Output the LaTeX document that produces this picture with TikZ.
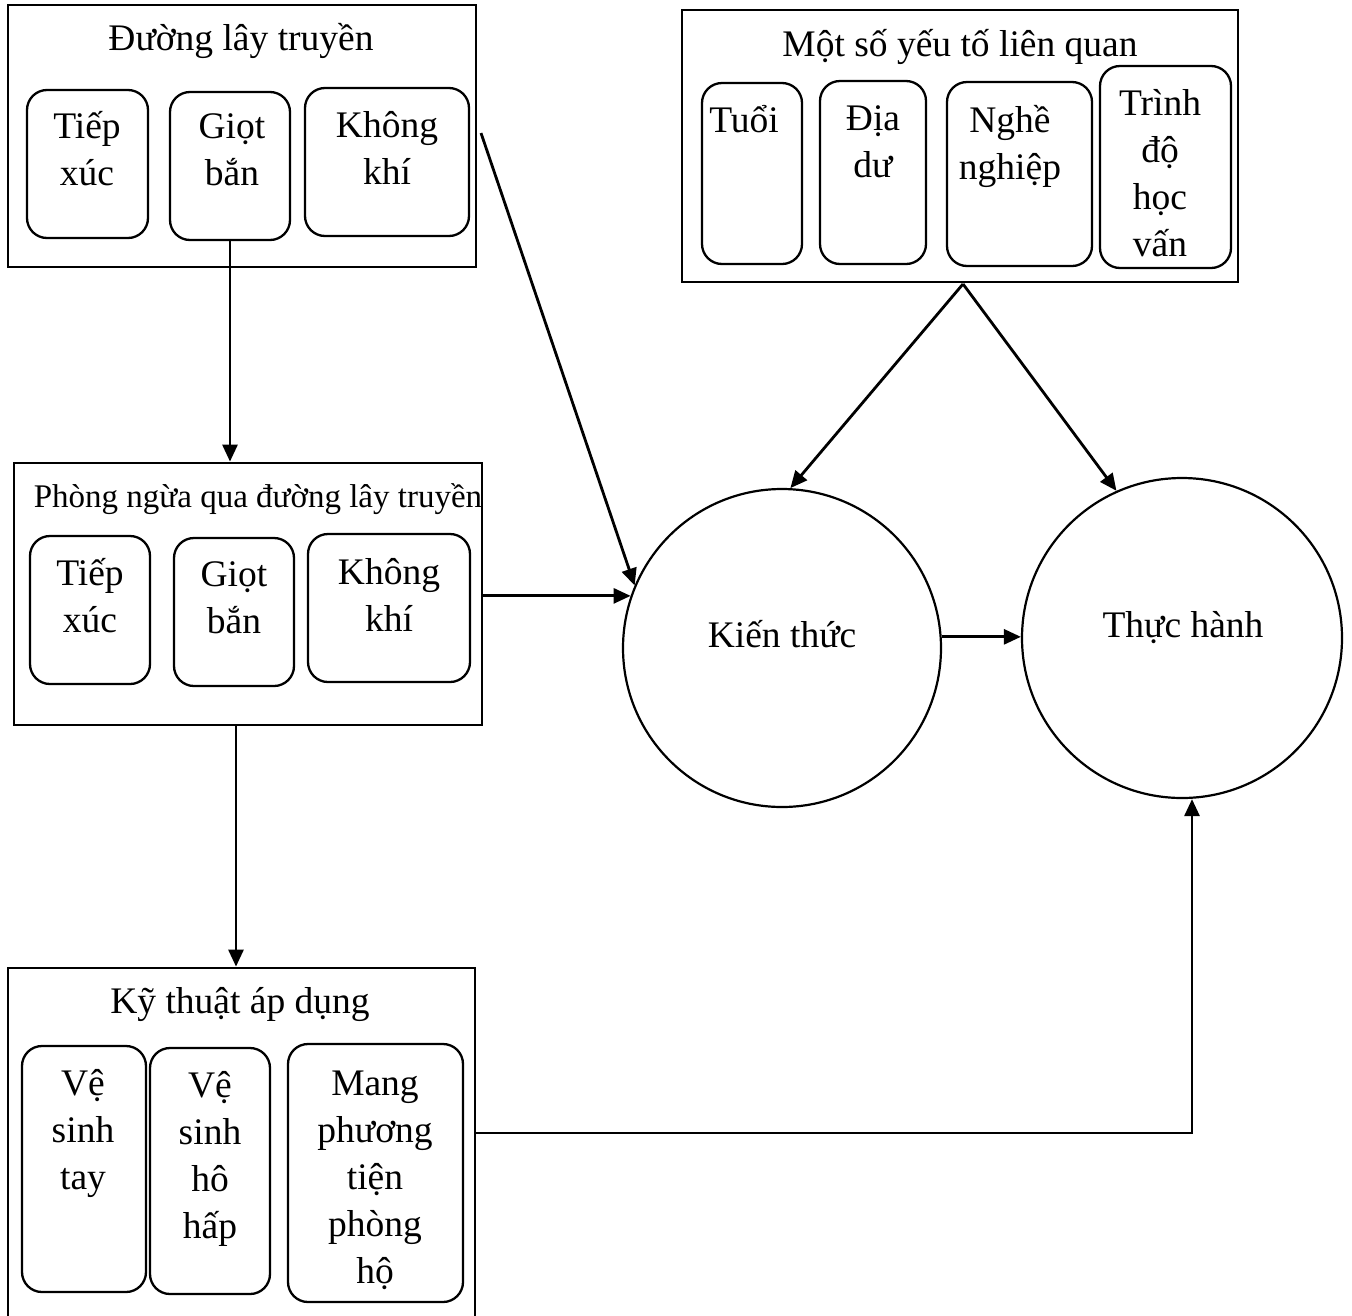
\documentclass[tikz,border=0pt]{standalone}
\usepackage{fontspec}
\setmainfont{Liberation Serif}
\usetikzlibrary{arrows.meta,calc,fit}
\newcommand\fstrut{\rule{0pt}{38pt}}
\newcommand\sstrut{\rule{0pt}{34pt}}
\begin{document}
\begin{tikzpicture}[x=1pt,y=-1pt,
  outerbox/.style={draw,line width=2.8pt,inner sep=0pt,rectangle},
  rbox/.style={draw,line width=2.3pt,inner sep=0pt,rectangle,rounded corners=20pt},
  ring/.style={draw,line width=2.2pt,inner sep=0pt,circle},
  txt/.style={inner sep=0pt,anchor=north,align=center,font=\fontsize{37.5}{47}\selectfont},
  stxt/.style={inner sep=0pt,anchor=north,align=center,font=\fontsize{33}{40}\selectfont},
  conn/.style={line width=2.8pt,-{Triangle[length=17pt,width=15pt]}}]
\useasboundingbox (0,0) rectangle (1352,1315);
\clip (0,0) rectangle (1352,1315);

% ---- Box 1: Duong lay truyen
\node[outerbox,fit={(8,5) (476,267)}] (B1) {};
\node[txt] (t1) at (241,12) {\fstrut Đường lây truyền};
\node[rbox,fit={(27,90) (148,238)}] (b1a) {};
\node[rbox,fit={(170,92) (290,240)}] (b1b) {};
\node[rbox,fit={(305,88) (469,236)}] (b1c) {};
\node[txt] (t1a) at (87,100) {\fstrut Tiếp\\xúc};
\node[txt] (t1b) at (232,100) {\fstrut Giọt\\bắn};
\node[txt] (t1c) at (387,99) {\fstrut Không\\khí};

% ---- Box 2: Phong ngua
\node[outerbox,fit={(14,463) (482,725)}] (B2) {};
\node[stxt] (t2) at (258,473) {\sstrut Phòng ngừa qua đường lây truyền};
\node[rbox,fit={(30,536) (150,684)}] (b2a) {};
\node[rbox,fit={(174,538) (294,686)}] (b2b) {};
\node[rbox,fit={(308,534) (470,682)}] (b2c) {};
\node[txt] (t2a) at (90,547) {\fstrut Tiếp\\xúc};
\node[txt] (t2b) at (234,548) {\fstrut Giọt\\bắn};
\node[txt] (t2c) at (389,546) {\fstrut Không\\khí};

% ---- Box 3: Ky thuat ap dung
\node[outerbox,fit={(8,968) (475,1340)}] (B3) {};
\node[txt] (t3) at (240,975) {\fstrut Kỹ thuật áp dụng};
\node[rbox,fit={(22,1046) (146,1292)}] (b3a) {};
\node[rbox,fit={(150,1048) (270,1294)}] (b3b) {};
\node[rbox,fit={(288,1044) (463,1302)}] (b3c) {};
\node[txt] (t3a) at (83,1057) {\fstrut Vệ\\sinh\\tay};
\node[txt] (t3b) at (210,1059) {\fstrut Vệ\\sinh\\hô\\hấp};
\node[txt] (t3c) at (375,1057) {\fstrut Mang\\phương\\tiện\\phòng\\hộ};

% ---- Box 4: Mot so yeu to lien quan
\node[outerbox,fit={(682,10) (1238,282)}] (B4) {};
\node[txt] (t4) at (960,18) {\fstrut Một số yếu tố liên quan};
\node[rbox,fit={(702,83) (802,264)}] (b4a) {};
\node[rbox,fit={(820,81) (926,264)}] (b4b) {};
\node[rbox,fit={(947,82) (1092,266)}] (b4c) {};
\node[rbox,fit={(1100,66) (1231,268)}] (b4d) {};
\node[txt] (t4a) at (744,94) {\fstrut Tuổi};
\node[txt] (t4b) at (873,92) {\fstrut Địa\\dư};
\node[txt] (t4c) at (1010,94) {\fstrut Nghề\\nghiệp};
\node[txt] (t4d) at (1160,77) {\fstrut Trình\\độ\\học\\vấn};

% ---- Circles
\node[ring,minimum size=318pt] (K) at (782,648) {};
\node[txt] (tK) at (782,609) {\fstrut Kiến thức};
\node[ring,minimum size=320pt] (T) at (1182,638) {};
\node[txt] (tT) at (1183,599) {\fstrut Thực hành};

% ---- Connectors
\coordinate (s1) at (481,133);
\coordinate (s2) at (236,725);
\coordinate (s4) at (963,284);
\draw[conn] (b1b.south) -- (b1b.south |- B2.north);
\draw[conn] (s2) -- (s2 |- B3.north);
\draw[conn] (s1) -- (K.157);
\draw[conn] (B2.east |- K.161) -- (K.161);
\draw[conn] (s4) -- (K.87);
\draw[conn] (s4) -- (T.114);
\draw[conn] (K.4) -- (T.west |- K.4);
\draw[conn] (B3.east |- 0,1133) -| ($(T.south)+(10,0)$);
\end{tikzpicture}
\end{document}
